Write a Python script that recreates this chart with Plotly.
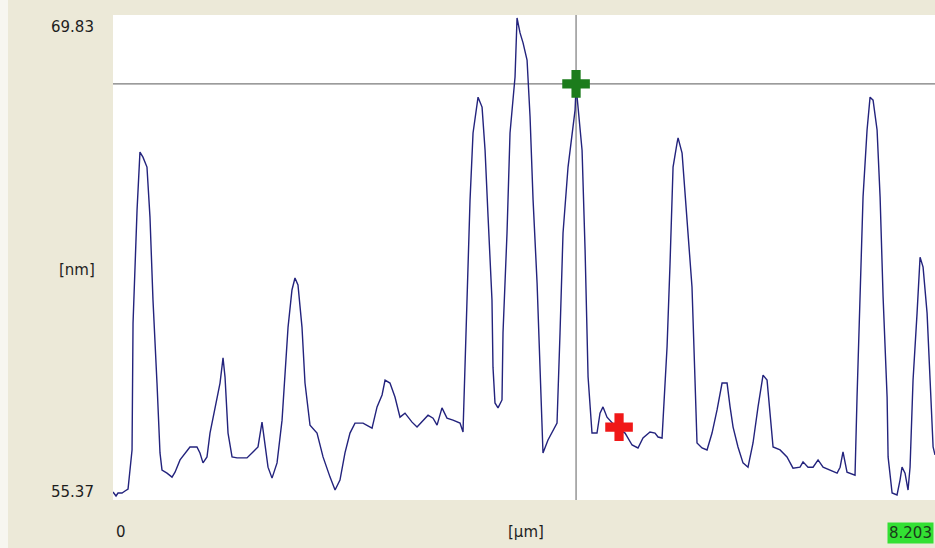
import plotly.graph_objects as go

# Height profile along the scan line
position_um = [
    0.000, 0.030, 0.050, 0.090, 0.120, 0.150, 0.190, 0.200, 0.240, 0.269,
    0.299, 0.339, 0.369, 0.399, 0.439, 0.469, 0.489, 0.539, 0.589, 0.619,
    0.669, 0.739, 0.768, 0.838, 0.868, 0.898, 0.938, 0.968, 1.018, 1.068,
    1.098, 1.118, 1.148, 1.188, 1.238, 1.287, 1.337, 1.397, 1.447, 1.487,
    1.517, 1.547, 1.587, 1.637, 1.687, 1.717, 1.747, 1.786, 1.816, 1.846,
    1.886, 1.916, 1.966, 2.036, 2.096, 2.166, 2.216, 2.265, 2.315, 2.365,
    2.415, 2.495, 2.585, 2.635, 2.685, 2.715, 2.764, 2.814, 2.864, 2.914,
    2.984, 3.034, 3.094, 3.144, 3.194, 3.234, 3.283, 3.333, 3.393, 3.463,
    3.493, 3.513, 3.533, 3.563, 3.593, 3.633, 3.643, 3.683, 3.713, 3.743,
    3.782, 3.792, 3.812, 3.842, 3.882, 3.892, 3.932, 3.962, 4.012, 4.032,
    4.062, 4.092, 4.132, 4.162, 4.192, 4.232, 4.261, 4.281, 4.291, 4.341,
    4.391, 4.431, 4.461, 4.491, 4.541, 4.581, 4.611, 4.621, 4.651, 4.681,
    4.711, 4.731, 4.741, 4.780, 4.830, 4.860, 4.890, 4.930, 4.980, 5.030,
    5.110, 5.180, 5.239, 5.289, 5.359, 5.409, 5.439, 5.479, 5.489, 5.529,
    5.559, 5.589, 5.629, 5.639, 5.679, 5.709, 5.739, 5.778, 5.808, 5.828,
    5.878, 5.928, 5.978, 6.028, 6.078, 6.128, 6.158, 6.188, 6.237, 6.287,
    6.337, 6.387, 6.437, 6.487, 6.527, 6.557, 6.587, 6.657, 6.726, 6.786,
    6.856, 6.886, 6.936, 6.986, 7.036, 7.086, 7.156, 7.226, 7.256, 7.285,
    7.325, 7.405, 7.425, 7.455, 7.485, 7.525, 7.555, 7.585, 7.625, 7.655,
    7.685, 7.725, 7.735, 7.775, 7.824, 7.854, 7.874, 7.904, 7.934, 7.954,
    7.984, 8.024, 8.054, 8.084, 8.124, 8.154, 8.184, 8.203,
]
height_nm = [
    55.52, 55.40, 55.49, 55.49, 55.55, 55.61, 56.79, 60.62, 64.03, 65.78,
    65.63, 65.33, 63.82, 61.32, 58.81, 56.70, 56.18, 56.09, 55.97, 56.12,
    56.49, 56.79, 56.88, 56.88, 56.70, 56.40, 56.58, 57.30, 58.09, 58.81,
    59.57, 58.99, 57.30, 56.58, 56.55, 56.55, 56.55, 56.73, 56.88, 57.63,
    57.00, 56.27, 55.94, 56.40, 57.69, 59.11, 60.50, 61.62, 61.98, 61.77,
    60.50, 58.81, 57.54, 57.30, 56.58, 55.97, 55.58, 55.88, 56.70, 57.30,
    57.60, 57.60, 57.45, 58.09, 58.45, 58.90, 58.81, 58.39, 57.78, 57.90,
    57.63, 57.48, 57.69, 57.84, 57.75, 57.54, 58.06, 57.75, 57.69, 57.60,
    57.33, 59.29, 61.32, 64.34, 66.36, 67.26, 67.44, 67.14, 65.84, 63.82,
    61.32, 59.29, 58.21, 58.06, 58.30, 60.32, 63.34, 66.36, 68.05, 69.83,
    69.38, 69.08, 68.56, 66.84, 64.34, 61.83, 59.29, 57.30, 56.70, 57.09,
    57.39, 57.60, 60.32, 63.34, 65.33, 66.36, 67.05, 67.78, 66.84, 65.84,
    62.83, 60.50, 58.99, 57.30, 57.30, 57.90, 58.09, 57.78, 57.60, 57.45,
    57.30, 56.94, 56.85, 57.15, 57.33, 57.30, 57.18, 57.15, 57.69, 59.90,
    62.43, 65.33, 66.06, 66.21, 65.75, 64.43, 63.22, 61.71, 58.90, 57.00,
    56.85, 56.79, 57.30, 58.00, 58.81, 58.81, 58.09, 57.48, 56.88, 56.40,
    56.27, 57.00, 58.09, 59.05, 58.90, 57.90, 56.88, 56.79, 56.58, 56.24,
    56.27, 56.43, 56.27, 56.27, 56.49, 56.27, 56.18, 56.09, 56.27, 56.73,
    56.12, 56.03, 58.39, 61.41, 64.43, 66.45, 67.44, 67.35, 66.45, 64.43,
    61.41, 58.39, 56.58, 55.49, 55.43, 55.88, 56.27, 56.09, 55.58, 56.27,
    58.90, 60.92, 62.61, 62.31, 60.92, 58.90, 56.88, 56.64,
]

# Axis end values and labels
z_min, z_max = 55.37, 69.83
profile_length_um = 8.203
x_unit, z_unit = "[µm]", "[nm]"

# Cursor positions (x in µm, z in nm)
cursor_x, cursor_z = 4.621, 67.84
marker2_x, marker2_z = 5.050, 57.48

BG = "#ECE9D8"
TEXT = "#1e1e1e"
FONT = "DejaVu Sans"

fig = go.Figure()

fig.add_trace(go.Scatter(
    x=position_um, y=height_nm, mode="lines",
    line=dict(color="#23237d", width=1.4),
    hoverinfo="skip", showlegend=False,
))

# Cursor markers
fig.add_trace(go.Scatter(
    x=[cursor_x], y=[cursor_z], mode="markers",
    marker=dict(symbol="cross", size=23, color="#1c7c1c", line=dict(width=0)),
    hoverinfo="skip", showlegend=False,
))
fig.add_trace(go.Scatter(
    x=[marker2_x], y=[marker2_z], mode="markers",
    marker=dict(symbol="cross", size=23, color="#f01818", line=dict(width=0)),
    hoverinfo="skip", showlegend=False,
))

# Cursor cross-hair lines
fig.add_shape(type="line", xref="x", yref="paper", x0=cursor_x, x1=cursor_x,
              y0=0, y1=1, line=dict(color="#7a7a7a", width=1.2), layer="below")
fig.add_shape(type="line", xref="paper", yref="y", x0=0, x1=1,
              y0=cursor_z, y1=cursor_z, line=dict(color="#7a7a7a", width=1.2),
              layer="below")

# Narrow light strip on the window's left edge
fig.add_shape(type="rect", xref="paper", yref="paper",
              x0=-113 / 822, x1=-105 / 822, y0=-48 / 485, y1=1 + 15 / 485,
              fillcolor="#f7f6f0", line=dict(width=0), layer="below")

# Pixel scale of the plot area: 479 px spans z_min..z_max
z_per_px = (z_max - z_min) / 479
fig.update_layout(
    width=935, height=548,
    margin=dict(l=113, r=0, t=15, b=48),
    paper_bgcolor=BG, plot_bgcolor="white",
    font=dict(family=FONT, size=15, color=TEXT),
    xaxis=dict(range=[0, profile_length_um], showgrid=False, zeroline=False,
               showticklabels=False, ticks="", showline=False, fixedrange=True),
    yaxis=dict(range=[z_min - 3 * z_per_px, z_max + 3 * z_per_px],
               showgrid=False, zeroline=False, showticklabels=False,
               ticks="", showline=False, fixedrange=True),
    showlegend=False,
)

ann = dict(showarrow=False, font=dict(family=FONT, size=15, color=TEXT))
fig.add_annotation(text=f"{z_max:.2f}", xref="paper", yref="paper",
                   x=-17 / 822, y=1 - 12 / 485, xanchor="right", yanchor="middle", **ann)
fig.add_annotation(text=f"{z_min:.2f}", xref="paper", yref="paper",
                   x=-17 / 822, y=8 / 485, xanchor="right", yanchor="middle", **ann)
fig.add_annotation(text=z_unit, xref="paper", yref="paper",
                   x=-16 / 822, y=1 - 255 / 485, xanchor="right", yanchor="middle", **ann)
fig.add_annotation(text="0", xref="paper", yref="paper",
                   x=1 / 822, y=-32 / 485, xanchor="left", yanchor="middle", **ann)
fig.add_annotation(text=x_unit, xref="paper", yref="paper",
                   x=413 / 822, y=-32 / 485, xanchor="center", yanchor="middle", **ann)
fig.add_annotation(text=f"{profile_length_um:.3f}", xref="paper", yref="paper",
                   x=774 / 822, y=-33 / 485, xanchor="left", yanchor="middle",
                   bgcolor="#33e033", borderpad=1, showarrow=False,
                   font=dict(family=FONT, size=15, color="#1a3a1a"))

fig.write_html("out.html", config={"displayModeBar": False})
